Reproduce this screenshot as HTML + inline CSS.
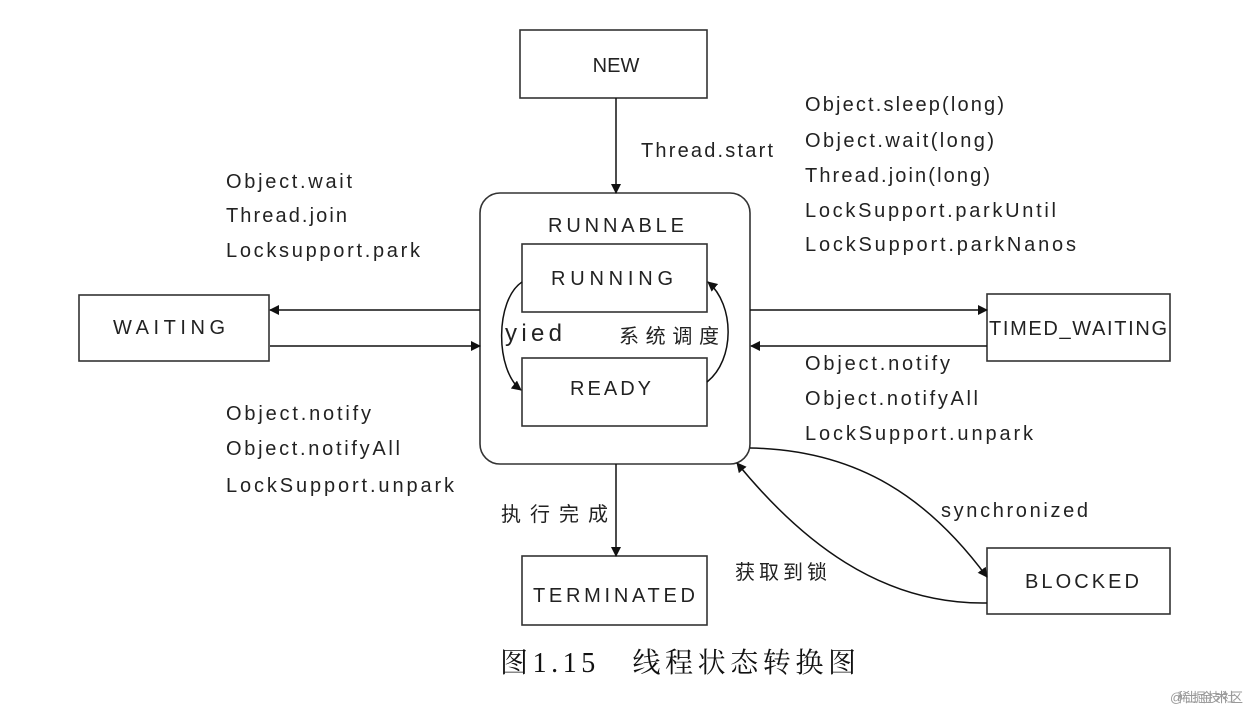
<!DOCTYPE html>
<html><head><meta charset="utf-8"><style>
html,body{margin:0;padding:0;background:#fff;width:1248px;height:717px;overflow:hidden}
text{font-family:"Liberation Sans","Noto Sans CJK SC",sans-serif;font-size:20px;fill:#222}
.c{font-family:"Liberation Serif","Noto Serif CJK SC",serif;font-size:28px;fill:#111}
</style></head><body>
<svg width="1248" height="717" viewBox="0 0 1248 717" xmlns="http://www.w3.org/2000/svg">
<defs><marker id="a" markerWidth="10" markerHeight="10" refX="9" refY="5" orient="auto" markerUnits="userSpaceOnUse"><path d="M0,0 L10,5 L0,10 z" fill="#111"/></marker></defs>
<g fill="#fff" stroke="#333" stroke-width="1.6">
<rect x="520" y="30" width="187" height="68"/>
<rect x="480" y="193" width="270" height="271" rx="20"/>
<rect x="522" y="244" width="185" height="68"/>
<rect x="522" y="358" width="185" height="68"/>
<rect x="79" y="295" width="190" height="66"/>
<rect x="987" y="294" width="183" height="67"/>
<rect x="522" y="556" width="185" height="69"/>
<rect x="987" y="548" width="183" height="66"/>
</g>
<g stroke="#111" stroke-width="1.5" fill="none" marker-end="url(#a)">
<line x1="616" y1="98" x2="616" y2="193"/>
<line x1="480" y1="310" x2="270" y2="310"/>
<line x1="270" y1="346" x2="480" y2="346"/>
<line x1="750" y1="310" x2="987" y2="310"/>
<line x1="987" y1="346" x2="751" y2="346"/>
<line x1="616" y1="464" x2="616" y2="556"/>
<path d="M522,282 C495,300 495,370 521,390"/>
<path d="M707,382 C735,360 735,305 708,282"/>
<path d="M750,448 C860,450 930,500 987,577"/>
<path d="M987,603 C880,605 800,540 737,463"/>
</g>
<text x="616" y="72" text-anchor="middle">NEW</text>
<text x="641" y="157" textLength="132">Thread.start</text>
<text x="805" y="111" textLength="199">Object.sleep(long)</text>
<text x="805" y="147" textLength="189">Object.wait(long)</text>
<text x="805" y="182" textLength="185">Thread.join(long)</text>
<text x="805" y="217" textLength="251">LockSupport.parkUntil</text>
<text x="805" y="251" textLength="271">LockSupport.parkNanos</text>
<text x="226" y="188" textLength="126">Object.wait</text>
<text x="226" y="222" textLength="121">Thread.join</text>
<text x="226" y="257" textLength="194">Locksupport.park</text>
<text x="226" y="420" textLength="145">Object.notify</text>
<text x="226" y="455" textLength="174">Object.notifyAll</text>
<text x="226" y="492" textLength="228">LockSupport.unpark</text>
<text x="805" y="370" textLength="145">Object.notify</text>
<text x="805" y="405" textLength="173">Object.notifyAll</text>
<text x="805" y="440" textLength="228">LockSupport.unpark</text>
<text x="548" y="232" textLength="136">RUNNABLE</text>
<text x="551" y="285" textLength="122">RUNNING</text>
<text x="570" y="395" textLength="81">READY</text>
<text x="505" y="341" textLength="57" style="font-size:24px">yied</text>
<text x="619" y="343" textLength="100">系统调度</text>
<text x="113" y="334" textLength="112">WAITING</text>
<text x="989" y="335" textLength="178">TIMED_WAITING</text>
<text x="501" y="521" textLength="107">执行完成</text>
<text x="533" y="602" textLength="162">TERMINATED</text>
<text x="941" y="517" textLength="147">synchronized</text>
<text x="1025" y="588" textLength="114">BLOCKED</text>
<text x="735" y="579" textLength="92">获取到锁</text>
<text class="c" x="500" y="672" textLength="356">图1.15　线程状态转换图</text>
<text x="1170" y="702" textLength="73" style="font-size:13px;fill:#999">@稀土掘金技术社区</text>
</svg>
</body></html>
